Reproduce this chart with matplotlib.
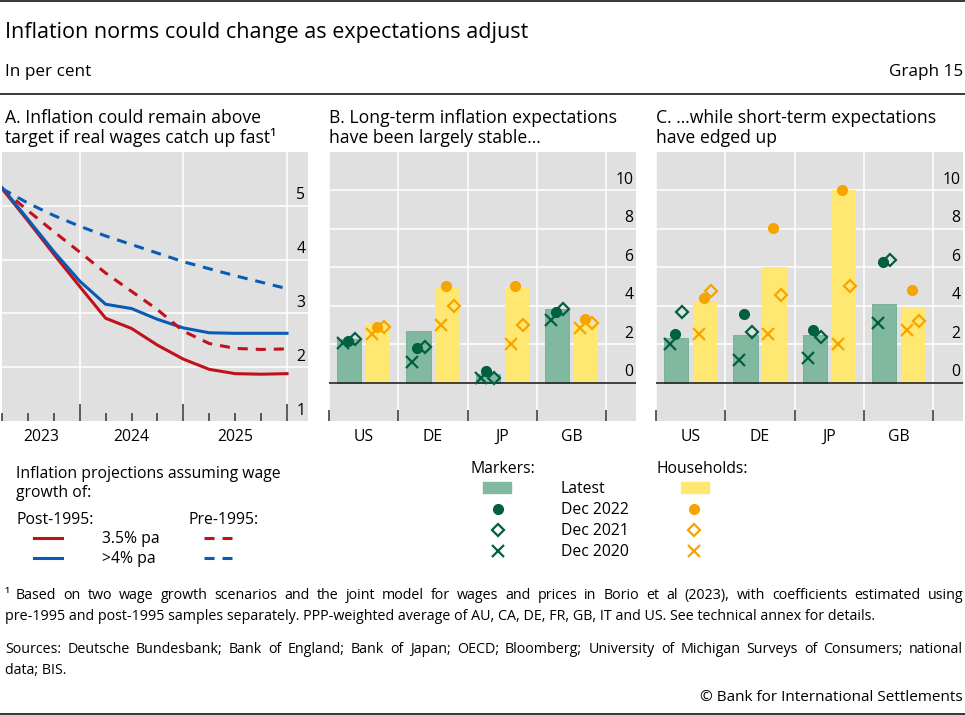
import numpy as np
import matplotlib.pyplot as plt

plt.rcParams['font.family'] = ['Open Sans', 'DejaVu Sans']

W, H = 965, 715

# panel A: inflation projections, quarterly from 2023 Q2 to 2025 Q4
quarters = np.arange(12)
post95_35 = [5.32, 4.72, 4.10, 3.50, 2.91, 2.72, 2.41, 2.15, 1.96, 1.88, 1.87, 1.88]
post95_4 = [5.34, 4.75, 4.15, 3.60, 3.17, 3.09, 2.89, 2.73, 2.64, 2.63, 2.63, 2.63]
pre95_35 = [5.32, 4.91, 4.52, 4.14, 3.75, 3.41, 3.07, 2.67, 2.44, 2.35, 2.33, 2.34]
pre95_4 = [5.32, 5.05, 4.82, 4.62, 4.44, 4.28, 4.12, 3.96, 3.83, 3.70, 3.58, 3.46]
years = ['2023', '2024', '2025']
year_pos = [1.5, 5, 9]

countries = ['US', 'DE', 'JP', 'GB']
# panel B: long-term expectations
lt_mkt_latest = [2.25, 2.70, 0.45, 3.81]
lt_mkt_2022 = [2.18, 1.78, 0.60, 3.69]
lt_mkt_2021 = [2.25, 1.83, 0.26, 3.81]
lt_mkt_2020 = [2.04, 1.09, 0.22, 3.25]
lt_hh_latest = [3.08, 4.98, 4.98, 3.11]
lt_hh_2022 = [2.90, 5.02, 5.02, 3.30]
lt_hh_2021 = [2.87, 4.00, 2.99, 3.11]
lt_hh_2020 = [2.53, 2.99, 2.00, 2.85]
# panel C: short-term expectations
st_mkt_latest = [2.30, 2.47, 2.46, 4.10]
st_mkt_2022 = [2.51, 3.58, 2.72, 6.26]
st_mkt_2021 = [3.69, 2.63, 2.39, 6.37]
st_mkt_2020 = [1.99, 1.16, 1.30, 3.08]
st_hh_latest = [4.20, 6.00, 10.02, 3.93]
st_hh_2022 = [4.41, 8.03, 10.03, 4.81]
st_hh_2021 = [4.79, 4.55, 5.02, 3.20]
st_hh_2020 = [2.51, 2.51, 2.02, 2.72]

RED = '#c1121c'
BLUE = '#0a5bb5'
GREEN_BAR = '#80b8a0'
YELLOW_BAR = '#ffe871'
DGREEN = '#00603f'
ORANGE = '#f7a400'
BG = '#e0e0e0'
TICK = '#333333'

fig = plt.figure(figsize=(W / 100, H / 100), dpi=100)

# overlay in pixel coords for texts, rules and legends
ov = fig.add_axes([0, 0, 1, 1])
ov.set_xlim(0, W)
ov.set_ylim(H, 0)
ov.axis('off')


def px_axes(x0, y0, x1, y1):
    return fig.add_axes([x0 / W, 1 - y1 / H, (x1 - x0) / W, (y1 - y0) / H])


def txt(x, y, s, size=11.3, **kw):
    return ov.text(x, y, s, fontsize=size, va='baseline', **kw)


def ylabels(ax, vals):
    for v in vals:
        ax.annotate(str(v), xy=(1, v), xycoords=ax.get_yaxis_transform(),
                    xytext=(-2, 7.5), textcoords='offset points',
                    ha='right', va='center', fontsize=11.3, color='black')


# ---- panel A
axA = px_axes(2, 152, 308, 421)
axA.set_facecolor(BG)
axA.plot(quarters, post95_35, color=RED, lw=2.2, zorder=3)
axA.plot(quarters, post95_4, color=BLUE, lw=2.2, zorder=3)
axA.plot(quarters, pre95_35, color=RED, lw=2.2, dashes=(3.3, 2.6), zorder=3)
axA.plot(quarters, pre95_4, color=BLUE, lw=2.2, dashes=(3.3, 2.6), zorder=3)
axA.set_xlim(0, 11.81)
axA.set_ylim(1, 6)
axA.set_yticks([2, 3, 4, 5])
axA.set_xticks([3, 7, 11])
axA.set_xticks([0, 1, 2, 4, 5, 6, 8, 9, 10], minor=True)
axA.tick_params(axis='y', length=0, labelleft=False)
axA.tick_params(axis='x', which='major', direction='in', length=12, width=1.1,
                color=TICK, labelbottom=False)
axA.tick_params(axis='x', which='minor', direction='in', length=5.5, width=1.1,
                color=TICK)
axA.grid(True, which='major', color='white', lw=1.1)
axA.set_axisbelow(True)
ylabels(axA, [1, 2, 3, 4, 5])
for x, yr in zip(year_pos, years):
    axA.annotate(yr, xy=(x, 0), xycoords=axA.get_xaxis_transform(),
                 xytext=(0, -11.5), textcoords='offset points',
                 ha='center', va='center', fontsize=11.3)
for s in axA.spines.values():
    s.set_visible(False)


# ---- panels B and C
def bar_panel(ax, m_lat, m22, m21, m20, h_lat, h22, h21, h20):
    x = np.arange(len(countries))
    xm = x + 0.29
    xh = x + 0.71
    ax.set_facecolor(BG)
    ax.bar(xm, m_lat, width=0.35, color=GREEN_BAR, edgecolor='#71ad93', lw=0.6, zorder=2)
    ax.bar(xh, h_lat, width=0.35, color=YELLOW_BAR, zorder=2)
    ax.axhline(0, color='#222222', lw=1.2, zorder=3)
    for xs, c, v22, v21, v20 in [(xm, DGREEN, m22, m21, m20), (xh, ORANGE, h22, h21, h20)]:
        ax.plot(xs - 0.02, v22, 'o', color=c, ms=7, zorder=4)
        ax.plot(xs + 0.09, v21, 'D', mfc='none', mec=c, mew=1.6, ms=6.2, zorder=4)
        ax.plot(xs - 0.09, v20, 'x', color=c, mew=1.6, ms=8.6, zorder=4)
    ax.set_xlim(0, 4.43)
    ax.set_ylim(-2, 12)
    ax.set_yticks([0, 2, 4, 6, 8, 10])
    ax.set_xticks([0, 1, 2, 3, 4])
    ax.set_xticks(x + 0.5, minor=True)
    ax.set_xticklabels(countries, minor=True)
    ax.tick_params(axis='y', length=0, labelleft=False)
    ax.tick_params(axis='x', which='major', direction='in', length=8, width=1.1,
                   color=TICK, labelbottom=False)
    ax.tick_params(axis='x', which='minor', length=0, pad=6, labelsize=11.3)
    ax.grid(True, which='major', color='white', lw=1.1)
    ax.set_axisbelow(True)
    ylabels(ax, [0, 2, 4, 6, 8, 10])
    for s in ax.spines.values():
        s.set_visible(False)


axB = px_axes(329, 152, 636, 421)
bar_panel(axB, lt_mkt_latest, lt_mkt_2022, lt_mkt_2021, lt_mkt_2020,
          lt_hh_latest, lt_hh_2022, lt_hh_2021, lt_hh_2020)
axC = px_axes(656, 152, 963, 421)
bar_panel(axC, st_mkt_latest, st_mkt_2022, st_mkt_2021, st_mkt_2020,
          st_hh_latest, st_hh_2022, st_hh_2021, st_hh_2020)

# ---- header
ov.plot([0, W], [0.8, 0.8], color='black', lw=1.1)
ov.plot([0, W], [94, 94], color='black', lw=1.1)
ov.plot([0, W], [714, 714], color='black', lw=1.1)
txt(5, 38, 'Inflation norms could change as expectations adjust', size=15.5)
txt(5, 76, 'In per cent', size=12.3)
txt(963, 76, 'Graph 15', size=12.3, ha='right')

txt(5, 123, 'A. Inflation could remain above', size=12.7)
txt(5, 143, 'target if real wages catch up fast\u00b9', size=12.7)
txt(329, 123, 'B. Long-term inflation expectations', size=12.7)
txt(329, 143, 'have been largely stable...', size=12.7)
txt(656, 123, 'C. ...while short-term expectations', size=12.7)
txt(656, 143, 'have edged up', size=12.7)

# ---- legend panel A
txt(16, 478, 'Inflation projections assuming wage')
txt(16, 497, 'growth of:')
txt(16, 524, 'Post-1995:')
txt(189, 524, 'Pre-1995:')
for yy, c, lab in [(538, RED, '3.5% pa'), (558, BLUE, '>4% pa')]:
    ov.plot([34, 62], [yy, yy], color=c, lw=2.2)
    ov.plot([204, 232], [yy, yy], color=c, lw=2.2, dashes=(3.3, 2.6))
    txt(102, yy + 5, lab)

# ---- legend panels B/C
txt(470, 473, 'Markers:')
txt(657, 473, 'Households:')
ov.add_patch(plt.Rectangle((483, 482), 28, 11, color=GREEN_BAR))
ov.add_patch(plt.Rectangle((681, 482), 28, 11, color=YELLOW_BAR))
txt(561, 493, 'Latest')
for yy, lab, mk in [(509, 'Dec 2022', 'o'), (530, 'Dec 2021', 'D'), (551, 'Dec 2020', 'x')]:
    for xx, c in [(498, DGREEN), (694, ORANGE)]:
        if mk == 'o':
            ov.plot(xx, yy, 'o', color=c, ms=7)
        elif mk == 'D':
            ov.plot(xx, yy, 'D', mfc='none', mec=c, mew=1.6, ms=6.2)
        else:
            ov.plot(xx, yy, 'x', color=c, mew=1.6, ms=8.6)
    txt(561, yy + 5, lab)

# ---- footnotes
renderer = fig.canvas.get_renderer()


def justify(x0, x1, y, text, size=10.3):
    words = text.split(' ')
    arts = [txt(0, y, w, size=size) for w in words]
    widths = [a.get_window_extent(renderer).width for a in arts]
    gap = (x1 - x0 - sum(widths)) / (len(words) - 1)
    x = x0
    for a, w in zip(arts, widths):
        a.set_x(x)
        x += w + gap


txt(5, 599, '\u00b9', size=10.3)
justify(16, 963, 599, 'Based on two wage growth scenarios and the joint model for wages and prices '
        'in Borio et al (2023), with coefficients estimated using')
txt(5, 620, 'pre-1995 and post-1995 samples separately. PPP-weighted average of AU, CA, DE, FR, '
    'GB, IT and US. See technical annex for details.', size=10.3)
justify(5, 963, 653, 'Sources: Deutsche Bundesbank; Bank of England; Bank of Japan; OECD; Bloomberg; '
        'University of Michigan Surveys of Consumers; national')
txt(5, 674, 'data; BIS.', size=10.3)
txt(963, 701, '\u00a9 Bank for International Settlements', size=11, ha='right')

fig.savefig('out.png', dpi=100)
